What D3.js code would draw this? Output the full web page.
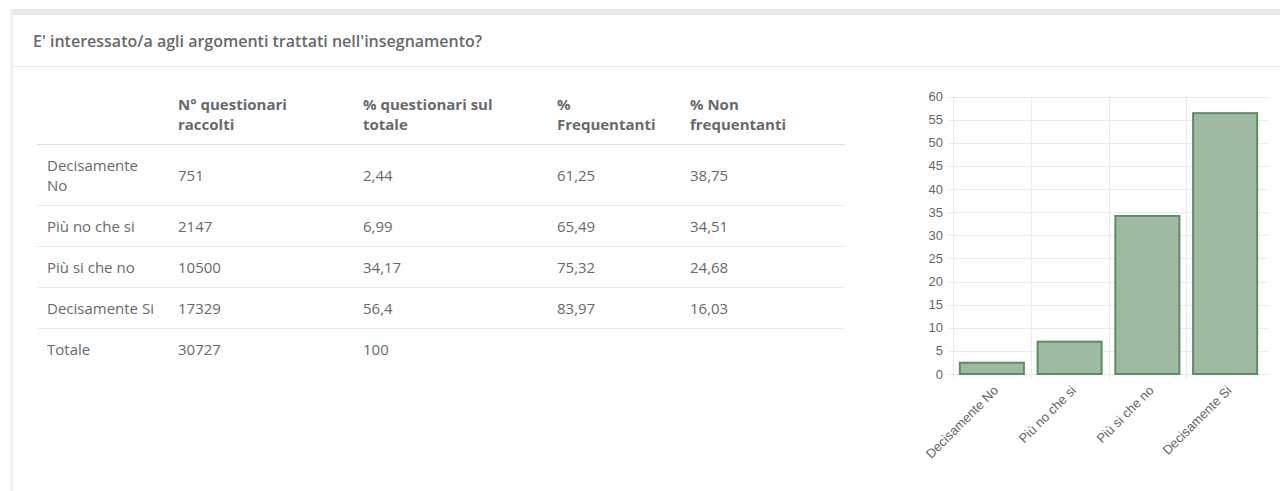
<!DOCTYPE html>
<html>
<head>
<meta charset="utf-8">
<script src="https://cdn.jsdelivr.net/npm/d3@7"></script>
<style>
  html, body { margin: 0; padding: 0; background: #fff; width: 1280px; height: 491px; overflow: hidden; }
  body { font-family: "Open Sans", sans-serif; color: #676a6c; position: relative; }
  .band { position: absolute; left: 10px; top: 9px; width: 1270px; height: 6px; background: #e7eaec; }
  .leftborder { position: absolute; left: 10px; top: 9px; width: 3px; height: 482px; background: #eef0f1; }
  .title { position: absolute; left: 33px; top: 30px; font-size: 16px; font-weight: 600; color: #676a6c; white-space: nowrap; }
  .sep { position: absolute; left: 13px; top: 66px; width: 1267px; height: 1px; background: #e7eaec; }
  table { position: absolute; left: 37px; top: 84px; border-collapse: collapse; table-layout: fixed; width: 808px; font-size: 15px; }
  th, td { padding: 10px 10px; line-height: 20px; text-align: left; vertical-align: middle; }
  th { font-weight: 700; border-bottom: 1px solid #dddddd; vertical-align: bottom; }
  td { border-top: 1px solid #e7eaec; }
  tbody tr:first-child td { border-top: none; }
  svg { position: absolute; left: 0; top: 0; }
</style>
</head>
<body>
<div class="band"></div>
<div class="leftborder"></div>
<div class="title">E' interessato/a agli argomenti trattati nell'insegnamento?</div>
<div class="sep"></div>
<div id="tbl"></div>
<svg id="chart" width="1280" height="491"></svg>
<script>
const headerLines = [[""], ["N° questionari", "raccolti"], ["% questionari sul", "totale"], ["%", "Frequentanti"], ["% Non", "frequentanti"]];
const rowLabels = ["Decisamente No", "Più no che si", "Più si che no", "Decisamente Si", "Totale"];
const rowLabelLines = [["Decisamente", "No"], ["Più no che si"], ["Più si che no"], ["Decisamente Si"], ["Totale"]];
const counts = ["751", "2147", "10500", "17329", "30727"];
const pctTotal = ["2,44", "6,99", "34,17", "56,4", "100"];
const pctFreq = ["61,25", "65,49", "75,32", "83,97", ""];
const pctNonFreq = ["38,75", "34,51", "24,68", "16,03", ""];

const categories = ["Decisamente No", "Più no che si", "Più si che no", "Decisamente Si"];
const values = [2.44, 6.99, 34.17, 56.4];
const yTicks = [0, 5, 10, 15, 20, 25, 30, 35, 40, 45, 50, 55, 60];

// ---- Table ----
const colWidths = [131, 185, 194, 133, 165];
const table = d3.select("#tbl").append("table");
table.append("colgroup").selectAll("col").data(colWidths).join("col").style("width", d => d + "px");
const thr = table.append("thead").append("tr");
thr.selectAll("th").data(headerLines).join("th").html(d => d.join("<br>"));
const rows = rowLabels.map((r, i) => [rowLabelLines[i].join("<br>"), counts[i], pctTotal[i], pctFreq[i], pctNonFreq[i]]);
table.append("tbody").selectAll("tr").data(rows).join("tr")
  .selectAll("td").data(d => d).join("td").html(d => d);

// ---- Chart ----
const svg = d3.select("#chart");
const x = d3.scaleBand().domain(categories).range([953, 1264]).paddingInner(0.15).paddingOuter(0.075);
const y = d3.scaleLinear().domain([0, 60]).range([374, 96.5]);
const gridColor = "#ebebeb";

svg.append("g").selectAll("line").data(yTicks).join("line")
  .attr("x1", 948).attr("x2", 1269)
  .attr("y1", d => Math.round(y(d)) + 0.5).attr("y2", d => Math.round(y(d)) + 0.5)
  .attr("stroke", gridColor).attr("stroke-width", 1);

const step = x.step();
const bounds = d3.range(categories.length).map(i => x.range()[0] + i * step);
svg.append("g").selectAll("line").data(bounds).join("line")
  .attr("x1", d => Math.round(d) + 0.5).attr("x2", d => Math.round(d) + 0.5)
  .attr("y1", 96.5).attr("y2", 379)
  .attr("stroke", gridColor).attr("stroke-width", 1);

svg.append("g").selectAll("text").data(yTicks).join("text")
  .attr("x", 943).attr("y", d => y(d))
  .attr("dy", "0.35em")
  .attr("text-anchor", "end")
  .style("font-family", "'Liberation Sans', Arial, sans-serif")
  .style("font-size", "13px")
  .attr("fill", "#666")
  .text(d => d);

svg.append("g").selectAll("rect").data(values).join("rect")
  .attr("x", (d, i) => x(categories[i]) + 1)
  .attr("y", d => y(d))
  .attr("width", x.bandwidth() - 2)
  .attr("height", d => y(0) - y(d))
  .attr("fill", "#9fbaa2")
  .attr("stroke", "#5d8c65")
  .attr("stroke-width", 2);

svg.append("g").selectAll("text").data(categories).join("text")
  .attr("transform", d => `translate(${x(d) + x.bandwidth() / 2 + 4},${388}) rotate(-45)`)
  .attr("text-anchor", "end")
  .attr("dy", "0.35em")
  .style("font-family", "'Liberation Sans', Arial, sans-serif")
  .style("font-size", "13px")
  .attr("fill", "#666")
  .text(d => d);
</script>
</body>
</html>
